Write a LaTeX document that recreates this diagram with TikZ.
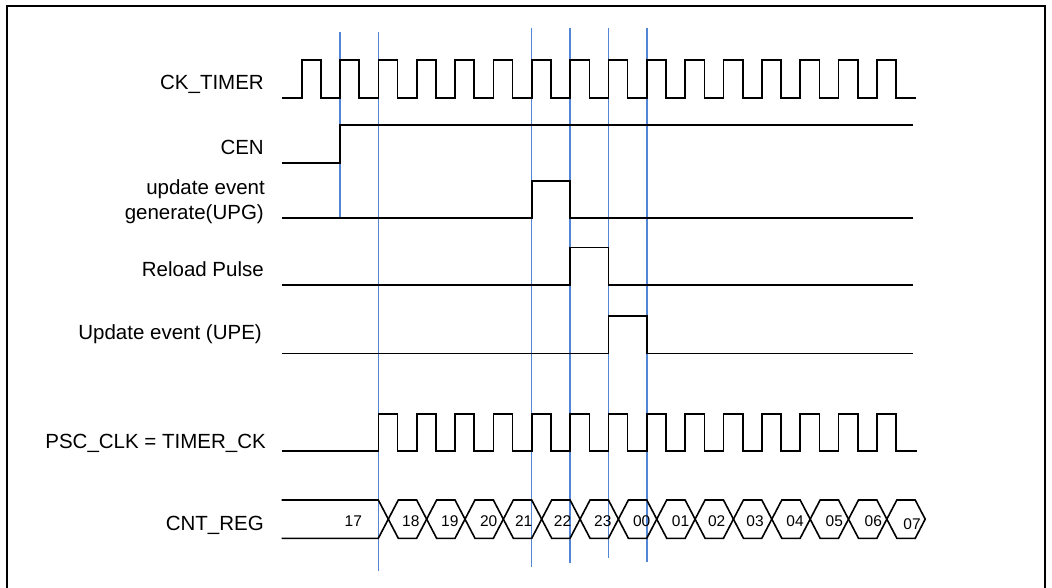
\documentclass[tikz,border=0pt]{standalone}
\usepackage{fontspec}
\setmainfont{Liberation Sans}
\definecolor{guide}{RGB}{82,134,212}
\begin{document}
\begin{tikzpicture}[x=1pt,y=-1pt,
  sig/.style={line width=1.6pt, line join=miter},
  guideline/.style={guide, line width=1.5pt},
  lbl/.style={font=\fontsize{20.5}{24}\selectfont, inner sep=0pt, anchor=base east},
  val/.style={font=\fontsize{15.5}{18}\selectfont, inner sep=0pt, anchor=base}]
\useasboundingbox (0,0) rectangle (1052,588);
% frame
\draw[line width=2pt] (7,588) -- (7,6) -- (1045,6) -- (1045,588);
% guide lines
\draw[guideline] (340,32.3) -- (340,218.3);
\draw[guideline] (378.3,32.3) -- (378.3,571);
\draw[guideline] (531.7,28.3) -- (531.7,566.7);
\draw[guideline] (570,28.3) -- (570,562.7);
\draw[guideline] (608.3,28.3) -- (608.3,558.3);
\draw[guideline] (647,28.3) -- (647,562.3);
% labels
\node[lbl] (lck) at (264,89.3) {CK\_TIMER};
\node[lbl] (lcen) at (264,154.3) {CEN};
\node[lbl] (lupga) at (265,194.3) {update event};
\node[lbl] (lupgb) at (264,219.3) {generate(UPG)};
\node[lbl] (lrel) at (264,276.7) {Reload Pulse};
\node[lbl] (lupe) at (262,339.3) {Update event (UPE)};
\node[lbl] (lpsc) at (266,448.3) {PSC\_CLK = TIMER\_CK};
\node[lbl] (lcnt) at (264,530.6) {CNT\_REG};
% CK_TIMER
\draw[sig] (281.7,98.3) \foreach \k in {0,...,15} { -- ({301.7+38.35*\k},98.3) -- ++(0,-38.3) -- ++(19.17,0) -- ++(0,38.3) } -- (916,98.3);
% CEN
\draw[sig] (281.7,163.3) -- (340,163.3) -- (340,125) -- (913.3,125);
% UPG
\draw[sig] (281.7,218.3) -- (531.7,218.3) -- (531.7,181) -- (570,181) -- (570,218.3) -- (913.3,218.3);
% Reload pulse
\draw[sig] (281.7,285) -- (570,285) -- (570,247.3) -- (608.3,247.3) -- (608.3,285) -- (913.3,285);
% UPE
\draw[sig] (281.7,353.3) -- (608.3,353.3) -- (608.3,315.7) -- (647,315.7) -- (647,353.3) -- (913.3,353.3);
% PSC_CLK
\draw[sig] (281.7,451) \foreach \k in {2,...,15} { -- ({301.7+38.35*\k},451) -- ++(0,-37.3) -- ++(19.17,0) -- ++(0,37.3) } -- (916.7,451);
% CNT_REG
\draw[sig] (281.7,500) -- (378.3,500) -- (388.3,519.15) -- (378.3,538.3) -- (281.7,538.3);
\foreach \j in {0,...,13} {
  \pgfmathsetmacro\cl{388.3+38.35*\j}
  \pgfmathsetmacro\cr{388.3+38.35*(\j+1)}
  \draw[sig] (\cl,519.15) -- (\cl+10,500) -- (\cr-10,500) -- (\cr,519.15) -- (\cr-10,538.3) -- (\cl+10,538.3) -- cycle;
}
\node[val] (v17) at (353.3,526.6) {17};
\foreach \t/\x [count=\i] in {18/410.8,19/449.8,20/488.7,21/523.7,22/562.5,23/602.8,00/641.7,01/680.5,02/716.7,03/755,04/795,05/834.3,06/873.3} {
  \node[val] (v\i) at (\x,526.6) {\t};
}
\node[val] (v14) at (912,529.5) {07};
\end{tikzpicture}
\end{document}
